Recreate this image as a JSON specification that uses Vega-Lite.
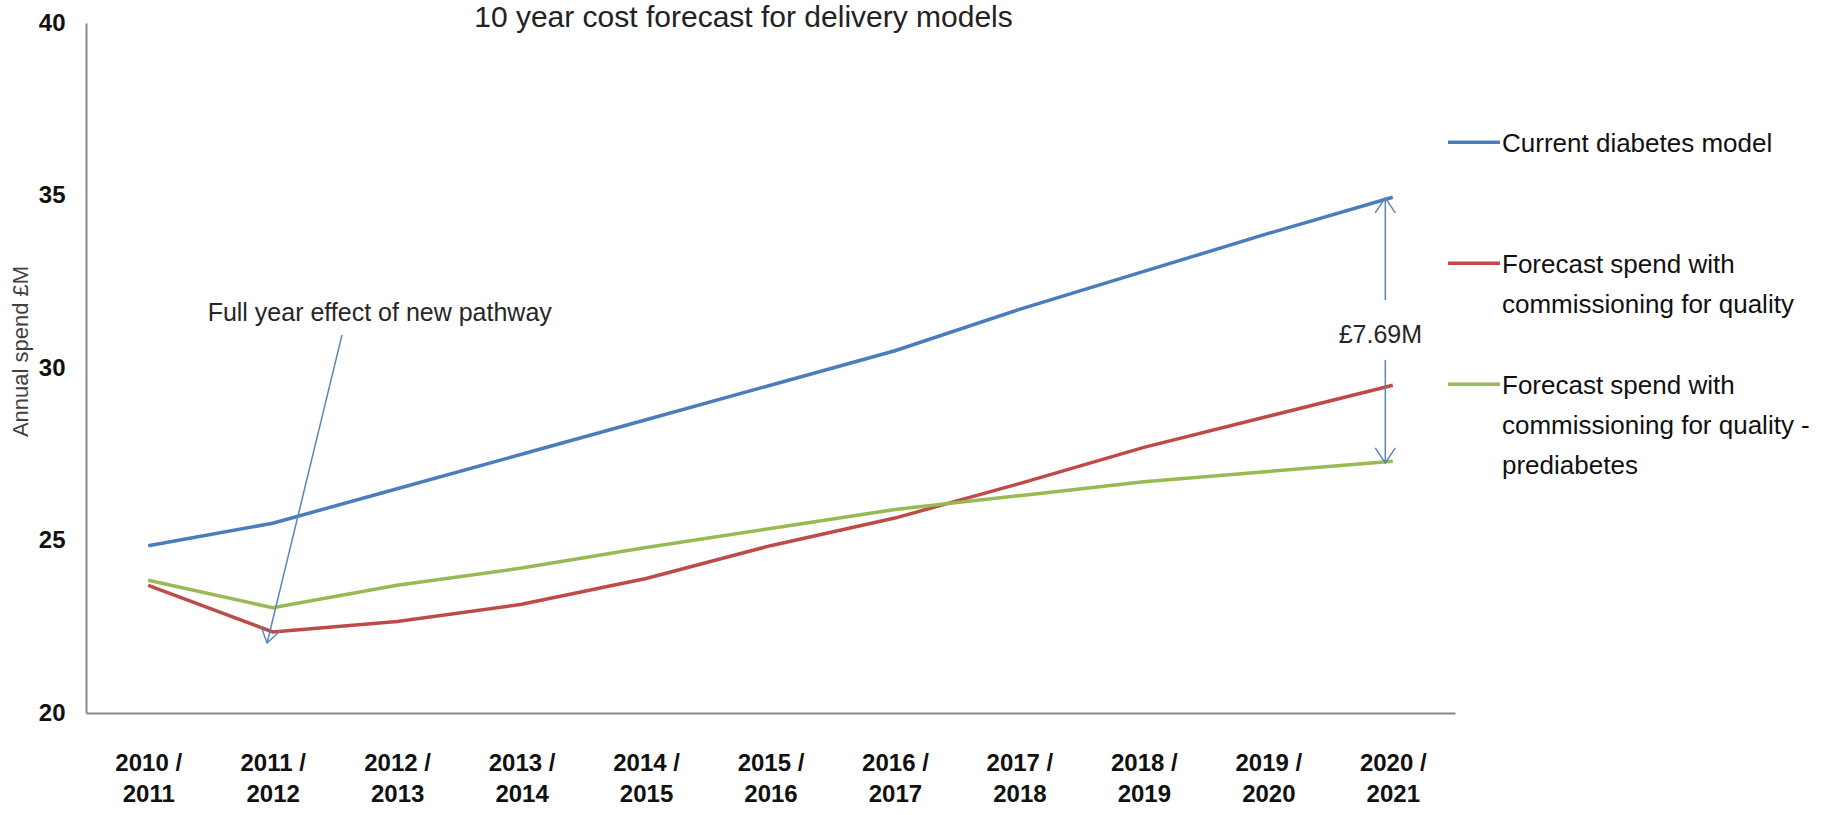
{
  "$schema": "https://vega.github.io/schema/vega-lite/v6.json",
  "width": 1369,
  "height": 690,
  "autosize": {"type": "none"},
  "padding": {"left": 86, "top": 23, "right": 380, "bottom": 102},
  "background": "white",
  "config": {
    "view": {"stroke": null},
    "style": {"guide-label": {"lineHeight": 40}}
  },
  "title": {
    "text": "10 year cost forecast for delivery models",
    "font": "Liberation Sans",
    "fontSize": 30,
    "fontWeight": "normal",
    "color": "#222222",
    "anchor": "middle",
    "frame": "group",
    "dx": -27,
    "baseline": "alphabetic",
    "offset": -46
  },
  "datasets": {
    "series": [
      {"series": "Current diabetes model", "x": 2010, "y": 24.85},
      {"series": "Current diabetes model", "x": 2011, "y": 25.5},
      {"series": "Current diabetes model", "x": 2012, "y": 26.5},
      {"series": "Current diabetes model", "x": 2013, "y": 27.5},
      {"series": "Current diabetes model", "x": 2014, "y": 28.5},
      {"series": "Current diabetes model", "x": 2015, "y": 29.5},
      {"series": "Current diabetes model", "x": 2016, "y": 30.5},
      {"series": "Current diabetes model", "x": 2017, "y": 31.7},
      {"series": "Current diabetes model", "x": 2018, "y": 32.8},
      {"series": "Current diabetes model", "x": 2019, "y": 33.9},
      {"series": "Current diabetes model", "x": 2020, "y": 34.95},
      {"series": "Forecast spend with commissioning for quality", "x": 2010, "y": 23.7},
      {"series": "Forecast spend with commissioning for quality", "x": 2011, "y": 22.35},
      {"series": "Forecast spend with commissioning for quality", "x": 2012, "y": 22.65},
      {"series": "Forecast spend with commissioning for quality", "x": 2013, "y": 23.15},
      {"series": "Forecast spend with commissioning for quality", "x": 2014, "y": 23.9},
      {"series": "Forecast spend with commissioning for quality", "x": 2015, "y": 24.85},
      {"series": "Forecast spend with commissioning for quality", "x": 2016, "y": 25.65},
      {"series": "Forecast spend with commissioning for quality", "x": 2017, "y": 26.65},
      {"series": "Forecast spend with commissioning for quality", "x": 2018, "y": 27.7},
      {"series": "Forecast spend with commissioning for quality", "x": 2019, "y": 28.6},
      {"series": "Forecast spend with commissioning for quality", "x": 2020, "y": 29.5},
      {"series": "Forecast spend with commissioning for quality - prediabetes", "x": 2010, "y": 23.85},
      {"series": "Forecast spend with commissioning for quality - prediabetes", "x": 2011, "y": 23.05},
      {"series": "Forecast spend with commissioning for quality - prediabetes", "x": 2012, "y": 23.7},
      {"series": "Forecast spend with commissioning for quality - prediabetes", "x": 2013, "y": 24.2},
      {"series": "Forecast spend with commissioning for quality - prediabetes", "x": 2014, "y": 24.8},
      {"series": "Forecast spend with commissioning for quality - prediabetes", "x": 2015, "y": 25.35},
      {"series": "Forecast spend with commissioning for quality - prediabetes", "x": 2016, "y": 25.9},
      {"series": "Forecast spend with commissioning for quality - prediabetes", "x": 2017, "y": 26.3},
      {"series": "Forecast spend with commissioning for quality - prediabetes", "x": 2018, "y": 26.7},
      {"series": "Forecast spend with commissioning for quality - prediabetes", "x": 2019, "y": 27.0},
      {"series": "Forecast spend with commissioning for quality - prediabetes", "x": 2020, "y": 27.3}
    ],
    "notes": [
      {"kind": "seg", "x": 2011.557, "y": 30.96, "x2": 2010.955, "y2": 22.03},
      {"kind": "seg", "x": 2019.94, "y": 34.93, "x2": 2019.94, "y2": 31.97},
      {"kind": "seg", "x": 2019.94, "y": 30.23, "x2": 2019.94, "y2": 27.25},
      {"kind": "up", "x": 2019.94, "y": 34.93},
      {"kind": "down", "x": 2019.94, "y": 27.25},
      {"kind": "diag", "x": 2010.955, "y": 22.03},
      {"kind": "text", "x": 2011.86, "y": 31.59, "label": "Full year effect of new pathway"},
      {"kind": "text", "x": 2019.9, "y": 30.96, "label": "£7.69M"}
    ]
  },
  "encoding": {
    "x": {
      "field": "x",
      "type": "quantitative",
      "scale": {"domain": [2009.5, 2020.5], "nice": false, "zero": false},
      "axis": {
        "title": null,
        "values": [2010, 2011, 2012, 2013, 2014, 2015, 2016, 2017, 2018, 2019, 2020],
        "labelExpr": "[format(datum.value, 'd') + ' /', format(datum.value + 1, 'd')]",
        "ticks": false,
        "grid": false,
        "domainColor": "#888888",
        "domainWidth": 2,
        "labelFont": "Liberation Sans",
        "labelFontSize": 24,
        "labelFontWeight": "bold",
        "labelColor": "#111111",
        "labelPadding": 38,
        "labelBaseline": "top",
        "labelLineHeight": 31,
        "labelAlign": "center",
        "labelOverlap": false,
        "labelFlush": false
      }
    },
    "y": {
      "field": "y",
      "type": "quantitative",
      "scale": {"domain": [20, 40], "nice": false, "zero": false},
      "axis": {
        "title": "Annual spend £M",
        "values": [20, 25, 30, 35, 40],
        "ticks": false,
        "grid": false,
        "domainColor": "#888888",
        "domainWidth": 2,
        "labelFont": "Liberation Sans",
        "labelFontSize": 24,
        "labelFontWeight": "bold",
        "labelColor": "#111111",
        "labelPadding": 21,
        "labelBaseline": "middle",
        "labelFlush": false,
        "labelOverlap": false,
        "titleFont": "Liberation Sans",
        "titleFontSize": 22,
        "titleFontWeight": "normal",
        "titleColor": "#404040",
        "titleAngle": 270,
        "titleAlign": "center",
        "titleBaseline": "middle",
        "titleX": -66,
        "titleY": 328
      }
    }
  },
  "layer": [
    {
      "data": {"name": "series"},
      "mark": {"type": "line", "strokeWidth": 3.5, "interpolate": "linear"},
      "encoding": {
        "color": {
          "field": "series",
          "type": "nominal",
          "scale": {
            "domain": ["Current diabetes model", "Forecast spend with commissioning for quality", "Forecast spend with commissioning for quality - prediabetes"],
            "range": ["#4A7EBB", "#BE4B48", "#98B954"]
          },
          "legend": {
            "orient": "none",
            "legendX": 1375,
            "legendY": 95,
            "title": null,
            "padding": 0,
            "symbolType": "M-2.364,1.018L2.364,1.018",
            "symbolSize": 484,
            "symbolStrokeWidth": 3.5,
            "labelFont": "Liberation Sans",
            "labelFontSize": 26,
            "labelColor": "#111111",
            "labelBaseline": "top",
            "labelOffset": 15,
            "labelLimit": 600,
            "rowPadding": 2,
            "labelExpr": "datum.label == 'Current diabetes model' ? ['Current diabetes model', '', ''] : datum.label == 'Forecast spend with commissioning for quality' ? ['Forecast spend with', 'commissioning for quality', ''] : ['Forecast spend with', 'commissioning for quality -', 'prediabetes']"
          }
        }
      }
    },
    {
      "data": {"name": "notes"},
      "transform": [{"filter": "datum.kind == 'seg'"}],
      "mark": {"type": "rule", "color": "#5B86B8", "strokeWidth": 1.5},
      "encoding": {"x2": {"field": "x2"}, "y2": {"field": "y2"}}
    },
    {
      "data": {"name": "notes"},
      "transform": [{"filter": "datum.kind == 'up'"}],
      "mark": {"type": "point", "shape": "M-0.67,1L0,0L0.67,1", "size": 900, "filled": false, "strokeWidth": 1.5, "color": "#5B86B8", "opacity": 1, "angle": 0}
    },
    {
      "data": {"name": "notes"},
      "transform": [{"filter": "datum.kind == 'down'"}],
      "mark": {"type": "point", "shape": "M-0.67,1L0,0L0.67,1", "size": 900, "filled": false, "strokeWidth": 1.5, "color": "#5B86B8", "opacity": 1, "angle": 180}
    },
    {
      "data": {"name": "notes"},
      "transform": [{"filter": "datum.kind == 'diag'"}],
      "mark": {"type": "point", "shape": "M-0.67,1L0,0L0.67,1", "size": 900, "filled": false, "strokeWidth": 1.5, "color": "#5B86B8", "opacity": 1, "angle": 193.7}
    },
    {
      "data": {"name": "notes"},
      "transform": [{"filter": "datum.kind == 'text'"}],
      "mark": {"type": "text", "font": "Liberation Sans", "fontSize": 25, "color": "#262626", "align": "center", "baseline": "middle"},
      "encoding": {"text": {"field": "label"}}
    }
  ]
}
